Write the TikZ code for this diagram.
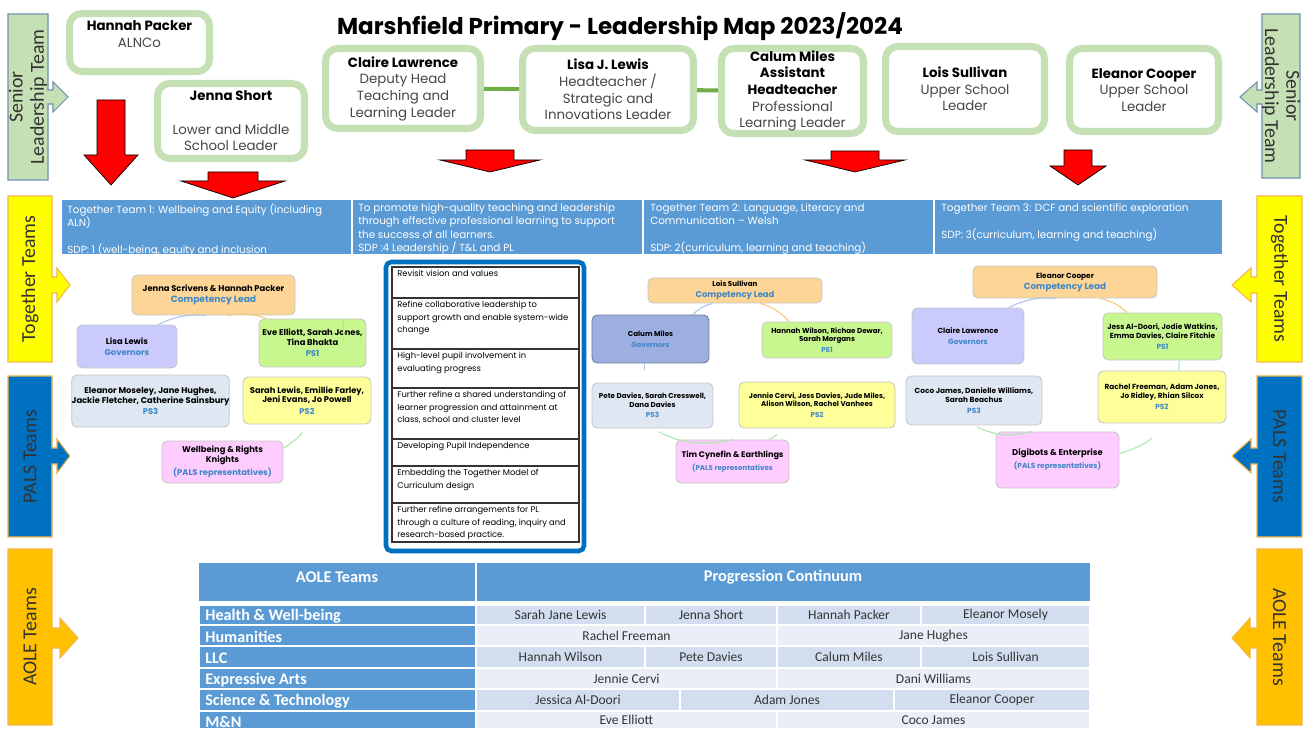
\documentclass[tikz,border=0pt]{standalone}
\usepackage{fontspec}
\setmainfont{Poppins}
\newfontfamily\calfont{Carlito}
\usepackage{tikz}
\usetikzlibrary{positioning}

\definecolor{leadgreen}{HTML}{C5E0B4}
\definecolor{linkgreen}{HTML}{70AD47}
\definecolor{sltgreen}{HTML}{C5E0B4}
\definecolor{sltedge}{HTML}{7090B0}
\definecolor{togyellow}{HTML}{FFFF00}
\definecolor{palsblue}{HTML}{0070C0}
\definecolor{aoleorange}{HTML}{FFC000}
\definecolor{tabedge}{HTML}{F2B84B}
\definecolor{bandblue}{HTML}{5B9BD5}
\definecolor{roleblue}{HTML}{3F88C8}
\definecolor{cplead}{HTML}{FCD597}
\definecolor{cpgov}{HTML}{CACAFD}
\definecolor{cpgovb}{HTML}{9DAEE0}
\definecolor{cpone}{HTML}{C8F790}
\definecolor{cptwo}{HTML}{FFFF99}
\definecolor{cpthree}{HTML}{DEE7F2}
\definecolor{cppals}{HTML}{FFCCFF}
\definecolor{arcblue}{HTML}{A8C4EC}
\definecolor{arcorange}{HTML}{F7C873}
\definecolor{arcgreen}{HTML}{A9E8B0}
\definecolor{celldark}{HTML}{D2DEF0}
\definecolor{celllight}{HTML}{E9EEF7}

\newcommand\role[1]{\\[1.2pt]\textcolor{roleblue}{#1}}
\newcommand\who[1]{\textbf{\textcolor{black}{#1}}}

\begin{document}
\begin{tikzpicture}[x=0.02cm, y=-0.02cm]
    \tikzstyle{leader} = [rectangle, draw=leadgreen, line width=4pt, rounded corners=7pt, fill=white, inner sep=0pt, align=center, text=black!72, font=\fontsize{7.6}{9.5}\selectfont]
    \tikzstyle{redarr} = [fill=red, draw=black, line width=0.4pt]
    \tikzstyle{tabtxt} = [inner sep=0pt, align=center, text=black!80, font=\calfont\fontsize{11.3}{12}\selectfont]
    \tikzstyle{bandtxt} = [anchor=north west, inner sep=0pt, align=left, text=white, font=\fontsize{5.9}{7.7}\selectfont]
    \tikzstyle{cbox} = [rectangle, draw=gray!45, line width=0.5pt, rounded corners=3pt, inner sep=0pt, align=center]
    \tikzstyle{cbone} = [cbox, font=\bfseries\fontsize{4.75}{5.4}\selectfont]
    \tikzstyle{cbtwo} = [cbox, font=\bfseries\fontsize{4.05}{4.8}\selectfont]
    \tikzstyle{cbthree} = [cbox, font=\bfseries\fontsize{4.2}{5.0}\selectfont]
    \tikzstyle{cyc} = [line width=0.6pt]
    \tikzstyle{listtxt} = [anchor=north west, inner sep=0pt, align=left, text=black, font=\fontsize{4.75}{7.1}\selectfont]
    \tikzstyle{headtxt} = [inner sep=0pt, text=white, font=\calfont\bfseries\fontsize{9.3}{10}\selectfont]
    \tikzstyle{rowtxt} = [anchor=west, inner sep=0pt, text=white, font=\calfont\bfseries\fontsize{9.2}{10}\selectfont]
    \tikzstyle{celltxt} = [inner sep=0pt, text=black!80, font=\calfont\fontsize{7.7}{8}\selectfont]

    \fill[white] (0,0) rectangle (1309,729);
    \useasboundingbox (0,0) rectangle (1309,729);

    % Title
    \node[font=\bfseries\fontsize{13.1}{14}\selectfont] (title) at (620,27) {Marshfield Primary - Leadership Map 2023/2024};

    % Side tabs, left and right
    \foreach \xa/\xb/\xs/\xt/\ya/\yb/\yc/\sh/\hh/\col/\edge/\ang/\txt/\nm in {
        8/48/53/68/14/180/97/7/15/sltgreen/sltedge/90/{Senior\\Leadership Team}/sltL,
        8/52/57/70/196/362/285/8/17/togyellow/tabedge/90/{Together Teams}/togL,
        8/52/57/70/376/537/456/8/17/palsblue/tabedge/90/{PALS Teams}/palsL,
        8/52/60/78/549/725/638/10/20/aoleorange/tabedge/90/{AOLE Teams}/aoleL,
        1300/1262/1257/1240/14/178/97/7/15/sltgreen/sltedge/-90/{Senior\\Leadership Team}/sltR,
        1302/1257/1251/1232/196/362/285/8/17/togyellow/tabedge/-90/{Together Teams}/togR,
        1302/1257/1251/1232/376/537/456/8/17/palsblue/tabedge/-90/{PALS Teams}/palsR,
        1302/1257/1250/1232/549/725/638/10/20/aoleorange/tabedge/-90/{AOLE Teams}/aoleR}
    {
        \draw[fill=\col, draw=\edge, line width=0.6pt] (\xa,\ya) -- (\xb,\ya) -- (\xb,\yc-\sh) -- (\xs,\yc-\sh) -- (\xs,\yc-\hh) -- (\xt,\yc)
            -- (\xs,\yc+\hh) -- (\xs,\yc+\sh) -- (\xb,\yc+\sh) -- (\xb,\yb) -- (\xa,\yb) -- cycle;
        \node[tabtxt, rotate=\ang] (\nm) at ({(\xa+\xb)/2},{(\ya+\yb)/2}) {\txt};
    }

    % Senior leaders
    \node[leader, minimum width=2.80cm, minimum height=1.16cm] (hp) at (139.5,42.5) {\who{Hannah Packer}\\ALNCo\\~};
    \node[leader, minimum width=2.94cm, minimum height=1.50cm] (js) at (231,121) {\who{Jenna Short}\\~\\Lower and Middle\\School Leader};
    \node[leader, minimum width=3.10cm, minimum height=1.60cm] (clw) at (403,88.5) {\who{Claire Lawrence}\\Deputy Head\\Teaching and\\Learning Leader};
    \node[leader, minimum width=3.42cm, minimum height=1.64cm] (ljl) at (608,89.5) {\who{Lisa J. Lewis}\\Headteacher /\\Strategic and\\Innovations Leader};
    \node[leader, minimum width=2.84cm, minimum height=1.70cm] (cam) at (792.5,91) {\who{Calum Miles}\\\who{Assistant}\\\who{Headteacher}\\Professional\\Learning Leader};
    \node[leader, minimum width=3.18cm, minimum height=1.70cm] (los) at (965,89) {\who{Lois Sullivan}\\Upper School\\Leader};
    \node[leader, minimum width=2.98cm, minimum height=1.66cm] (elc) at (1144,90) {\who{Eleanor Cooper}\\Upper School\\Leader};
    \draw[linkgreen, line width=2.3pt] (clw) -- (ljl);
    \draw[linkgreen, line width=2.3pt] (ljl) -- (cam);

    % Red arrows down to the teams
    \foreach \cx/\ya/\yb/\yt/\sw/\hw in {111/100/155/185/14/27, 233/172/181/198/25/52, 490/150/160/172/24/50, 855/151/160/172/24/50, 1078/150/166/185/14/28}
        \draw[redarr] (\cx-\sw,\ya) -- (\cx+\sw,\ya) -- (\cx+\sw,\yb) -- (\cx+\hw,\yb) -- (\cx,\yt) -- (\cx-\hw,\yb) -- (\cx-\sw,\yb) -- cycle;

    % Team headings band
    \begin{scope}
        \clip (62,200) rectangle (1222,254);
        \fill[bandblue] (62,200) rectangle (1222,254);
        \foreach \x in {352,643,934} \draw[white, line width=0.8pt] (\x,200) -- (\x,254);
        \node[bandtxt] (band1) at (67,203) {Together Team 1: Wellbeing and Equity (including\\ALN)\\~\\SDP: 1 (well-being, equity and inclusion};
        \node[bandtxt] (band2) at (358,203) {To promote high-quality teaching and leadership\\through effective professional learning to support\\the success of all learners.\\SDP :4 Leadership / T\&L and PL};
        \node[bandtxt] (band3) at (650,203) {Together Team 2: Language, Literacy and\\Communication -- Welsh\\~\\SDP: 2(curriculum, learning and teaching)};
        \node[bandtxt] (band4) at (941,203) {Together Team 3: DCF and scientific exploration\\~\\SDP: 3(curriculum, learning and teaching)};
    \end{scope}

    % Together Team 1
    \node[cbone, fill=cplead, minimum width=3.26cm, minimum height=0.80cm] (lead1) at (213.5,295) {Jenna Scrivens \& Hannah Packer\role{\fontsize{5.2}{6}\selectfont Competency Lead}};
    \node[cbone, fill=cpgov, minimum width=2.00cm, minimum height=0.86cm] (gov1) at (127,346.5) {Lisa Lewis\role{Governors}};
    \node[cbone, fill=cpone, minimum width=2.14cm, minimum height=0.96cm] (psa1) at (312.5,343) {Eve Elliott, Sarah Jones,\\Tina Bhakta\role{PS1}};
    \node[cbone, fill=cptwo, minimum width=2.56cm, minimum height=0.94cm] (psb1) at (307,400.5) {Sarah Lewis, Emillie Farley,\\Jeni Evans, Jo Powell\role{PS2}};
    \node[cbone, fill=cpthree, minimum width=3.14cm, minimum height=1.04cm] (psc1) at (150.5,401) {Eleanor Moseley, Jane Hughes,\\Jackie Fletcher, Catherine Sainsbury\role{PS3}};
    \node[cbone, fill=cppals, minimum width=2.42cm, minimum height=0.84cm] (pals1) at (222.5,462) {Wellbeing \& Rights\\Knights\role{(PALS representatives)}};
    \draw[cyc, arcblue] (gov1.35) to[bend left=15] (lead1.250);
    \draw[cyc, arcorange] (lead1.304) to[bend left=15] (psa1.152);
    \draw[cyc, arcgreen] (psa1.38) -- ++(0,22);
    \draw[cyc, arcgreen, shorten <=5pt] (psb1.south) to[bend left=15] (pals1.13);

    % Together Team 2
    \node[cbtwo, fill=cplead, minimum width=3.48cm, minimum height=0.50cm] (lead2) at (735,290.5) {Lois Sullivan\role{\fontsize{4.8}{5.5}\selectfont Competency Lead}};
    \node[cbtwo, fill=cpgovb, draw=cpgovb!70!black, minimum width=2.34cm, minimum height=0.96cm] (gov2) at (650.5,339) {Calum Miles\role{Governors}};
    \node[cbtwo, fill=cpone, minimum width=2.60cm, minimum height=0.72cm] (psa2) at (827,340) {Hannah Wilson, Richae Dewar,\\Sarah Morgans\role{PS1}};
    \node[cbtwo, fill=cptwo, minimum width=3.12cm, minimum height=0.92cm] (psb2) at (817,405) {Jennie Cervi, Jess Davies, Jude Miles,\\Alison Wilson, Rachel Vanhees\role{PS2}};
    \node[cbtwo, fill=cpthree, minimum width=2.42cm, minimum height=0.90cm] (psc2) at (652.5,405.5) {Pete Davies, Sarah Cresswell,\\Dana Davies\role{PS3}};
    \node[cbtwo, fill=cppals, minimum width=2.26cm, minimum height=0.86cm] (pals2) at (732.5,461.5) {\fontsize{4.6}{5.6}\selectfont Tim Cynefin \& Earthlings\role{(PALS representatives}};
    \draw[cyc, arcblue] (gov2.30) to[bend left=15] (lead2.210);
    \draw[cyc, arcorange] (lead2.333) to[bend left=15] (psa2.154);
    \draw[cyc, arcblue] (gov2.257) -- ++(0,7);
    \draw[cyc, arcgreen, shorten <=4pt] (psb2.213) to[bend left=15] (pals2.31);
    \draw[cyc, arcgreen, shorten >=4pt] (pals2.north) to[bend left=20] (psc2.south);

    % Together Team 3
    \node[cbthree, fill=cplead, minimum width=3.68cm, minimum height=0.64cm] (lead3) at (1065,282) {Eleanor Cooper\role{\fontsize{5}{5.8}\selectfont Competency Lead}};
    \node[cbthree, fill=cpgov, minimum width=2.24cm, minimum height=1.12cm] (gov3) at (968,336) {Claire Lawrence\role{Governors}};
    \node[cbthree, fill=cpone, minimum width=2.38cm, minimum height=0.94cm] (psa3) at (1162.5,336.5) {Jess Al-Doori, Jodie Watkins,\\Emma Davies, Claire Fitchie\role{PS1}};
    \node[cbthree, fill=cptwo, minimum width=2.56cm, minimum height=1.04cm] (psb3) at (1162,397) {Rachel Freeman, Adam Jones,\\Jo Ridley, Rhian Silcox\role{PS2}};
    \node[cbthree, fill=cpthree, minimum width=2.72cm, minimum height=0.98cm] (psc3) at (974,400.5) {Coco James, Danielle Williams,\\Sarah Beachus\role{PS3}};
    \node[cbthree, fill=cppals, minimum width=2.46cm, minimum height=1.12cm] (pals3) at (1057.5,460) {\fontsize{4.8}{5.8}\selectfont Digibots \& Enterprise\role{(PALS representatives)}};
    \draw[cyc, arcblue] (gov3.35) to[bend left=15] (lead3.243);
    \draw[cyc, arcorange] (lead3.335) to[bend left=15] (psa3.146);
    \draw[cyc, arcgreen] (psa3.305) -- (psb3.58);
    \draw[cyc, arcgreen, shorten <=10pt] (psb3.south) to[bend left=20] (pals3.6);
    \draw[cyc, arcgreen, shorten >=2pt] (pals3.132) to[bend left=20] (psc3.south);

    % Priorities list
    \draw[line width=2.6pt, draw=palsblue, fill=white, rounded corners=3pt] (386,262) rectangle (584,551);
    \draw[black!80, line width=0.6pt] (392,267) rectangle (579,542);
    \foreach \y in {298,349,388,439,466,503} \draw[black!80, line width=0.6pt] (392,\y) -- (579,\y);
    \foreach \y/\txt [count=\i] in {
        267/{Revisit vision and values},
        298/{Refine collaborative leadership to\\support growth and enable system-wide\\change},
        349/{High-level pupil involvement in\\evaluating progress},
        388/{Further refine a shared understanding of\\learner progression and attainment at\\class, school and cluster level},
        439/{Developing Pupil Independence},
        466/{Embedding the Together Model of\\Curriculum design},
        503/{Further refine arrangements for PL\\through a culture of reading, inquiry and\\research-based practice.}}
        \node[listtxt] (aim\i) at (397,\y+3) {\txt};

    % AOLE table
    \fill[bandblue] (199,563) rectangle (1090,601);
    \draw[white, line width=0.8pt] (476,563) -- (476,601);
    \node[headtxt] (hdA) at (337,577) {AOLE Teams};
    \node[headtxt] (hdB) at (783,577) {Progression Continuum};
    \foreach \ya/\yb/\txt [count=\i] in {605/625/{Health \& Well-being}, 625/646/Humanities, 646/668/LLC, 668/689/{Expressive Arts}, 689/711/{Science \& Technology}, 711/729/{M\&N}}
    {
        \draw[fill=bandblue, draw=white, line width=0.8pt] (199,\ya) rectangle (476,\yb);
        \node[rowtxt] (area\i) at (205,{(\ya+\yb)/2+1.5}) {\txt};
    }
    \foreach \ya/\yb/\xa/\xb/\sh/\nm [count=\i] in {
        605/625/476/645/celldark/{Sarah Jane Lewis}, 605/625/645/777/celldark/{Jenna Short}, 605/625/777/921/celldark/{Hannah Packer}, 605/625/921/1090/celldark/{Eleanor Mosely},
        625/646/476/777/celllight/{Rachel Freeman}, 625/646/777/1090/celllight/{Jane Hughes},
        646/668/476/645/celldark/{Hannah Wilson}, 646/668/645/777/celldark/{Pete Davies}, 646/668/777/921/celldark/{Calum Miles}, 646/668/921/1090/celldark/{Lois Sullivan},
        668/689/476/777/celllight/{Jennie Cervi}, 668/689/777/1090/celllight/{Dani Williams},
        689/711/476/680/celldark/{Jessica Al-Doori}, 689/711/680/894/celldark/{Adam Jones}, 689/711/894/1090/celldark/{Eleanor Cooper},
        711/729/476/777/celllight/{Eve Elliott}, 711/729/777/1090/celllight/{Coco James}}
    {
        \draw[fill=\sh, draw=white, line width=0.8pt] (\xa,\ya) rectangle (\xb,\yb);
        \node[celltxt] (pc\i) at ({(\xa+\xb)/2},{(\ya+\yb)/2}) {\nm};
    }

\end{tikzpicture}
\end{document}
